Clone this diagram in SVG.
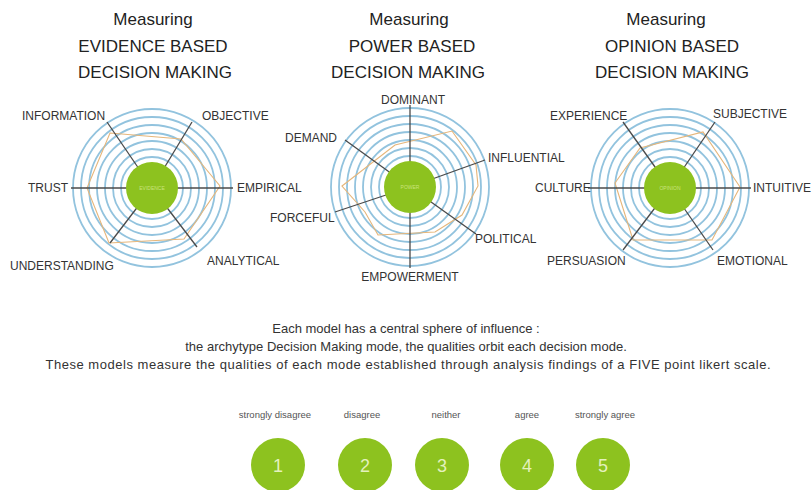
<svg xmlns="http://www.w3.org/2000/svg" xmlns:xlink="http://www.w3.org/1999/xlink" width="812" height="490" viewBox="0 0 812 490">
<style>
  .title { font-family: "Liberation Sans", Arial, sans-serif; font-size: 17px; fill: #222; text-anchor: middle; }
  .lbl { font-family: "Liberation Sans", Arial, sans-serif; font-size: 12px; fill: #333; }
  .mid { text-anchor: middle; }
  .para { font-family: "Liberation Sans", Arial, sans-serif; font-size: 13px; fill: #333; text-anchor: middle; }
  .scale { font-family: "Liberation Sans", Arial, sans-serif; font-size: 9.5px; fill: #555; text-anchor: middle; }
  .num { font-family: "Liberation Sans", Arial, sans-serif; font-size: 18px; fill: #e4f1bd; text-anchor: middle; }
  .core { font-family: "Liberation Sans", Arial, sans-serif; font-size: 5px; fill: #c9e27c; text-anchor: middle; }
  .ring { fill: none; stroke: #92c3de; stroke-width: 1.8; }
  .spoke { stroke: #4a4a4a; stroke-width: 1.3; fill: none; }
  .poly { fill: none; stroke: #e6b67a; stroke-width: 1.1; }
  .green { fill: #8dc21f; }
</style>
<defs>
  <g id="rings">
    <circle class="ring" r="31"/>
    <circle class="ring" r="39"/>
    <circle class="ring" r="47"/>
    <circle class="ring" r="55"/>
    <circle class="ring" r="63"/>
    <circle class="ring" r="71"/>
    <circle class="ring" r="79"/>
  </g>
</defs>
<rect width="812" height="490" fill="#ffffff"/>

<!-- Titles -->
<g id="title-evidence">
  <text class="title" x="153" y="25">Measuring</text>
  <text class="title" x="153" y="52">EVIDENCE BASED</text>
  <text class="title" x="155" y="78">DECISION MAKING</text>
</g>
<g id="title-power">
  <text class="title" x="409" y="25">Measuring</text>
  <text class="title" x="412" y="52">POWER BASED</text>
  <text class="title" x="408" y="78">DECISION MAKING</text>
</g>
<g id="title-opinion">
  <text class="title" x="666" y="25">Measuring</text>
  <text class="title" x="672" y="52">OPINION BASED</text>
  <text class="title" x="672" y="78">DECISION MAKING</text>
</g>

<!-- Chart backgrounds (rings) -->
<g id="chart-evidence-rings"><use xlink:href="#rings" href="#rings" x="152" y="188"/></g>
<g id="chart-power-rings"><use xlink:href="#rings" href="#rings" x="410" y="187"/></g>
<g id="chart-opinion-rings"><use xlink:href="#rings" href="#rings" x="670" y="188"/></g>

<!-- Profiles -->
<g id="profiles">
  <polygon class="poly" points="110,133 181,139 220,186 184,239 109,243 87,188"/>
  <polygon class="poly" points="342,186 395,145 452,131 476,165 478,186 462,215 435,232 378,235 365,212"/>
  <polygon class="poly" points="615,183 640,148 703,132 740,187 712,240 633,240"/>
</g>

<!-- Connectors (spokes) -->
<g id="connectors">
  <line class="spoke" x1="152" y1="188" x2="107" y2="122"/>
  <line class="spoke" x1="152" y1="188" x2="192" y2="122"/>
  <line class="spoke" x1="152" y1="188" x2="233" y2="188"/>
  <line class="spoke" x1="152" y1="188" x2="71" y2="188"/>
  <line class="spoke" x1="152" y1="188" x2="110" y2="243"/>
  <line class="spoke" x1="152" y1="188" x2="197" y2="247"/>

  <line class="spoke" x1="410" y1="187" x2="410" y2="105"/>
  <line class="spoke" x1="410" y1="187" x2="410" y2="268"/>
  <line class="spoke" x1="410" y1="187" x2="345" y2="140"/>
  <line class="spoke" x1="410" y1="187" x2="485" y2="160"/>
  <line class="spoke" x1="410" y1="187" x2="335" y2="212"/>
  <line class="spoke" x1="410" y1="187" x2="476" y2="234"/>

  <line class="spoke" x1="670" y1="188" x2="623" y2="122"/>
  <line class="spoke" x1="670" y1="188" x2="715" y2="122"/>
  <line class="spoke" x1="670" y1="188" x2="751" y2="188"/>
  <line class="spoke" x1="670" y1="188" x2="588" y2="188"/>
  <line class="spoke" x1="670" y1="188" x2="623" y2="250"/>
  <line class="spoke" x1="670" y1="188" x2="713" y2="250"/>
</g>

<!-- Central spheres -->
<g id="core-evidence">
  <circle class="green" cx="152" cy="188" r="26"/>
  <text class="core" x="152" y="190">EVIDENCE</text>
</g>
<g id="core-power">
  <circle class="green" cx="410" cy="187" r="26"/>
  <text class="core" x="410" y="189">POWER</text>
</g>
<g id="core-opinion">
  <circle class="green" cx="670" cy="188" r="26"/>
  <text class="core" x="670" y="190">OPINION</text>
</g>

<!-- Quality labels -->
<g id="labels-evidence">
  <text class="lbl" x="22" y="120">INFORMATION</text>
  <text class="lbl" x="202" y="120">OBJECTIVE</text>
  <text class="lbl" x="237" y="192">EMPIRICAL</text>
  <text class="lbl" x="28" y="192">TRUST</text>
  <text class="lbl" x="10" y="270">UNDERSTANDING</text>
  <text class="lbl" x="207" y="265">ANALYTICAL</text>
</g>
<g id="labels-power">
  <text class="lbl mid" x="413" y="104">DOMINANT</text>
  <text class="lbl" x="285" y="142">DEMAND</text>
  <text class="lbl" x="488" y="162">INFLUENTIAL</text>
  <text class="lbl" x="270" y="222">FORCEFUL</text>
  <text class="lbl" x="475" y="243">POLITICAL</text>
  <text class="lbl mid" x="410" y="281">EMPOWERMENT</text>
</g>
<g id="labels-opinion">
  <text class="lbl" x="550" y="120">EXPERIENCE</text>
  <text class="lbl" x="713" y="118">SUBJECTIVE</text>
  <text class="lbl" x="753" y="192">INTUITIVE</text>
  <text class="lbl" x="535" y="192">CULTURE</text>
  <text class="lbl" x="547" y="265">PERSUASION</text>
  <text class="lbl" x="717" y="265">EMOTIONAL</text>
</g>

<!-- Explanation -->
<g id="explanation">
  <text class="para" x="406" y="333">Each model has a central sphere of influence :</text>
  <text class="para" x="406" y="351">the archytype Decision Making mode, the qualities orbit each decision mode.</text>
  <text class="para" x="408" y="369" textLength="725" lengthAdjust="spacing">These models measure the qualities of each mode established through analysis findings of a FIVE point likert scale.</text>
</g>

<!-- Likert scale -->
<g id="scale-1">
  <text class="scale" x="275" y="418">strongly disagree</text>
  <circle class="green" cx="278" cy="465" r="27"/>
  <text class="num" x="278" y="472">1</text>
</g>
<g id="scale-2">
  <text class="scale" x="362" y="418">disagree</text>
  <circle class="green" cx="365" cy="465" r="27"/>
  <text class="num" x="365" y="472">2</text>
</g>
<g id="scale-3">
  <text class="scale" x="446" y="418">neither</text>
  <circle class="green" cx="442" cy="465" r="27"/>
  <text class="num" x="442" y="472">3</text>
</g>
<g id="scale-4">
  <text class="scale" x="527" y="418">agree</text>
  <circle class="green" cx="527" cy="465" r="27"/>
  <text class="num" x="527" y="472">4</text>
</g>
<g id="scale-5">
  <text class="scale" x="605" y="418">strongly agree</text>
  <circle class="green" cx="603" cy="465" r="27"/>
  <text class="num" x="603" y="472">5</text>
</g>
</svg>
